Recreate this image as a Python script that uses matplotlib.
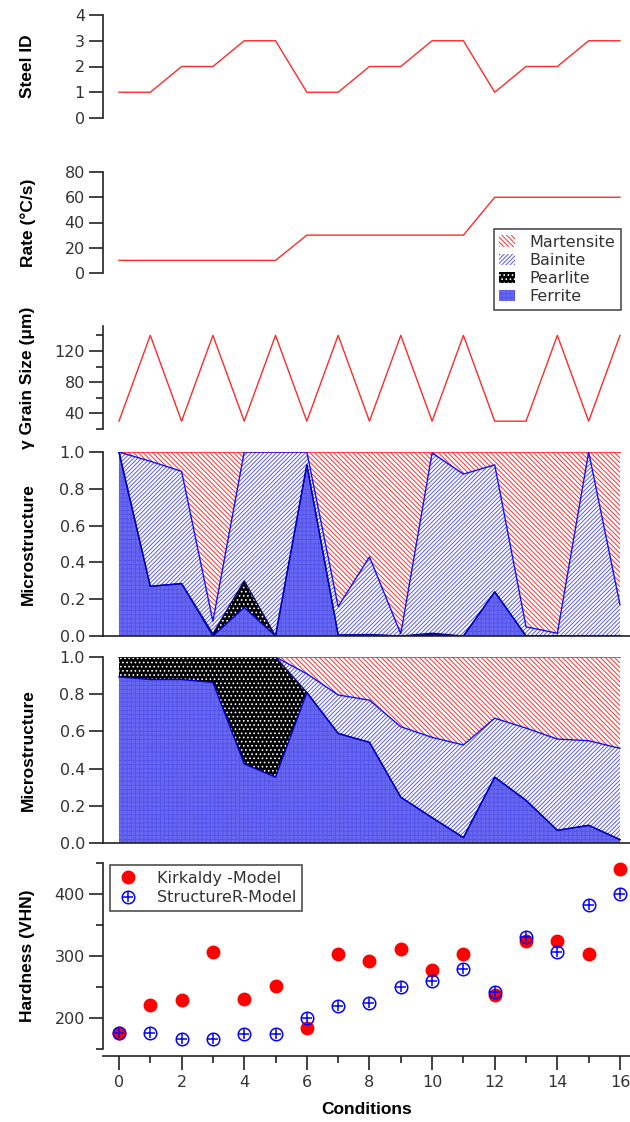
import numpy as np
import matplotlib.pyplot as plt
import matplotlib.patches as mpatches
from matplotlib.legend_handler import HandlerTuple
from matplotlib.ticker import MultipleLocator

plt.rcParams['font.family'] = ['DejaVu Sans']
plt.rcParams['hatch.linewidth'] = 0.7

# condition index 0..16
conditions = np.arange(17)

steel_id = [1, 1, 2, 2, 3, 3, 1, 1, 2, 2, 3, 3, 1, 2, 2, 3, 3]
rate = [10, 10, 10, 10, 10, 10, 30, 30, 30, 30, 30, 30, 60, 60, 60, 60, 60]
grain = [30, 140, 30, 140, 30, 140, 30, 140, 30, 140, 30, 140, 30, 30, 140, 30, 140]

# phase fractions, Kirkaldy model
ferrite_k = [1.0, 0.27, 0.285, 0.0, 0.155, 0.0, 0.93, 0.005, 0.005, 0.0, 0.005, 0.0, 0.24, 0.0, 0.0, 0.0, 0.0]
pearlite_k = [0.0, 0.0, 0.0, 0.012, 0.145, 0.0, 0.0, 0.0, 0.003, 0.0, 0.01, 0.0, 0.0, 0.0, 0.0, 0.0, 0.0]
bainite_k = [0.0, 0.68, 0.61, 0.068, 0.70, 1.0, 0.07, 0.155, 0.422, 0.012, 0.98, 0.88, 0.69, 0.05, 0.015, 1.0, 0.17]

# phase fractions, StructureR model
ferrite_s = [0.893, 0.879, 0.879, 0.863, 0.425, 0.354, 0.809, 0.589, 0.541, 0.246, 0.136, 0.029, 0.354, 0.229, 0.068, 0.095, 0.018]
pearlite_s = [0.107, 0.121, 0.121, 0.137, 0.575, 0.646, 0.0, 0.0, 0.0, 0.0, 0.0, 0.0, 0.0, 0.0, 0.0, 0.0, 0.0]
bainite_s = [0.0, 0.0, 0.0, 0.0, 0.0, 0.0, 0.101, 0.207, 0.227, 0.379, 0.432, 0.498, 0.317, 0.389, 0.491, 0.455, 0.491]

hv_kirkaldy = [176, 221, 229, 307, 231, 252, 184, 303, 292, 311, 277, 303, 237, 324, 324, 303, 441]
hv_structurer = [176, 176, 166, 166, 175, 175, 200, 219, 225, 250, 260, 279, 242, 331, 307, 383, 400]

W, H = 630, 1122
fig = plt.figure(figsize=(W / 100, H / 100), dpi=100)

LEFT, RIGHT = 103, 630


def add_panel(top, bottom):
    return fig.add_axes([LEFT / W, 1 - bottom / H, (RIGHT - LEFT) / W, (bottom - top) / H])


def style(ax, bottom_spine=False):
    for s in ['top', 'right']:
        ax.spines[s].set_visible(False)
    ax.spines['bottom'].set_visible(bottom_spine)
    ax.spines['left'].set_linewidth(1.2)
    ax.spines['bottom'].set_linewidth(1.2)
    ax.spines['left'].set_color('#222222')
    ax.spines['bottom'].set_color('#222222')
    ax.set_xlim(-0.51, 16.32)
    ax.tick_params(axis='y', which='major', direction='out', length=10, width=1.2,
                   color='#222222', labelsize=11.5, labelcolor='#333333', pad=3)
    ax.tick_params(axis='y', which='minor', direction='out', length=5, width=1.2, color='#222222')
    ax.tick_params(axis='x', which='both', bottom=False, labelbottom=False)
    ax.patch.set_alpha(0)


def ylabel(text, top, bottom):
    fig.text(28 / W, 1 - (top + bottom) / 2 / H, text, rotation=90, ha='center', va='center',
             fontsize=12.5, fontweight='bold', family=['Liberation Sans', 'DejaVu Sans'])


red = '#ff2a2a'

# steel id
ax1 = add_panel(15, 118)
style(ax1)
ax1.plot(conditions, steel_id, color=red, lw=1)
ax1.set_ylim(0, 4)
ax1.set_yticks([0, 1, 2, 3, 4])
ylabel('Steel ID', 15, 118)

# cooling rate
ax2 = add_panel(172, 273)
style(ax2)
ax2.plot(conditions, rate, color=red, lw=1)
ax2.set_ylim(0, 80)
ax2.set_yticks([0, 20, 40, 60, 80])
ylabel('Rate (°C/s)', 172, 273)

# austenite grain size
ax3 = add_panel(326, 429)
style(ax3)
ax3.plot(conditions, grain, color=red, lw=1)
ax3.set_ylim(20, 152)
ax3.set_yticks([40, 80, 120])
ax3.yaxis.set_minor_locator(MultipleLocator(20))
ylabel('γ Grain Size (μm)', 326, 429)

hatch_mart = dict(facecolor='white', edgecolor='#ff3030', hatch='\\' * 7, lw=0)
hatch_bain = dict(facecolor='white', edgecolor='#5858ff', hatch='/' * 8, lw=0)
hatch_pear = dict(facecolor='black', edgecolor='white', hatch='.' * 4, lw=0)
hatch_ferr = dict(facecolor='#6868f0', edgecolor='#5454ec', hatch='++++', lw=0)


def micro(ax, ferrite, pearlite, bainite, red_from=0):
    f = np.array(ferrite)
    fp = f + np.array(pearlite)
    fpb = fp + np.array(bainite)
    one = np.ones_like(f)
    ax.fill_between(conditions, fpb, one, **hatch_mart)
    ax.fill_between(conditions, fp, fpb, **hatch_bain)
    ax.fill_between(conditions, f, fp, **hatch_pear)
    ax.fill_between(conditions, 0, f, **hatch_ferr)
    ax.plot(conditions[red_from:], one[red_from:], color=red, lw=1.2)
    ax.plot(conditions, fpb, color='#1010ff', lw=1)
    ax.plot(conditions, fp, color='#101060', lw=1)
    ax.plot(conditions, f, color='#0000cc', lw=1)
    ax.set_ylim(0, 1.0)
    ax.set_yticks([0, 0.2, 0.4, 0.6, 0.8, 1.0])
    ax.set_yticklabels(['0.0', '0.2', '0.4', '0.6', '0.8', '1.0'])


ax4 = add_panel(452, 636)
style(ax4, bottom_spine=True)
micro(ax4, ferrite_k, pearlite_k, bainite_k)
ylabel('Microstructure', 452, 636)

ax5 = add_panel(657, 843)
style(ax5, bottom_spine=True)
micro(ax5, ferrite_s, pearlite_s, bainite_s, red_from=5)
ylabel('Microstructure', 657, 843)

handles = [mpatches.Patch(label='Martensite', **hatch_mart),
           mpatches.Patch(label='Bainite', **hatch_bain),
           mpatches.Patch(label='Pearlite', **hatch_pear),
           mpatches.Patch(label='Ferrite', **hatch_ferr)]
leg = fig.legend(handles=handles, loc='upper right', bbox_to_anchor=(621 / W, 1 - 229 / H),
                 bbox_transform=fig.transFigure, fontsize=11.5, frameon=True, fancybox=False,
                 borderaxespad=0, handlelength=1.0, handleheight=0.7, handletextpad=0.9,
                 labelspacing=0.2, borderpad=0.35)
leg.get_frame().set_edgecolor('#222222')
leg.get_frame().set_linewidth(1.2)
for t in leg.get_texts():
    t.set_color('#333333')

# hardness
ax6 = add_panel(863, 1049)
style(ax6, bottom_spine=True)
ax6.spines['bottom'].set_position(('outward', 5))
ax6.set_ylim(150, 450)
ax6.set_yticks([200, 300, 400])
ax6.yaxis.set_minor_locator(MultipleLocator(100, offset=50))
ax6.tick_params(axis='x', which='major', bottom=True, labelbottom=True, direction='out',
                length=10, width=1.2, color='#222222', labelsize=11.5, labelcolor='#333333', pad=4)
ax6.tick_params(axis='x', which='minor', bottom=True, direction='out', length=5, width=1.2,
                color='#222222')
ax6.set_xticks(np.arange(0, 17, 2))
ax6.xaxis.set_minor_locator(MultipleLocator(1))
red_pts, = ax6.plot(conditions, hv_kirkaldy, 'o', color='#ff0000', ms=9, mec='#ff0000', clip_on=False)
blue_ring, = ax6.plot(conditions, hv_structurer, 'o', mfc='none', mec='#0000ff', ms=9, mew=1.1, clip_on=False)
blue_plus, = ax6.plot(conditions, hv_structurer, '+', color='#0000ff', ms=7, mew=1.1, clip_on=False)
leg2 = ax6.legend([red_pts, (blue_ring, blue_plus)], ['Kirkaldy -Model', 'StructureR-Model'],
                  handler_map={tuple: HandlerTuple(ndivide=1)},
                  loc='upper left', bbox_to_anchor=(110 / W, 1 - 865 / H),
                  bbox_transform=fig.transFigure,
                  fontsize=11.5, frameon=True, fancybox=False, borderaxespad=0,
                  handlelength=1.6, handletextpad=1.0, labelspacing=0.3, borderpad=0.35)
leg2.get_frame().set_edgecolor('#222222')
leg2.get_frame().set_linewidth(1.2)
for t in leg2.get_texts():
    t.set_color('#333333')
ax6.set_xlabel('Conditions', fontsize=12.5, fontweight='bold',
               family=['Liberation Sans', 'DejaVu Sans'], labelpad=8)
ylabel('Hardness (VHN)', 863, 1049)

fig.savefig('out.png', dpi=100)
